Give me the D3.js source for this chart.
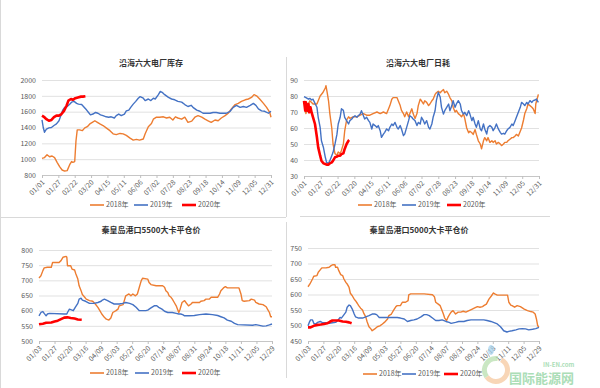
<!DOCTYPE html>
<html><head><meta charset="utf-8">
<script src="https://cdn.jsdelivr.net/npm/d3@7"></script>
<style>
body{margin:0;background:#fff}
svg{display:block}
text{font-family:"Noto Sans CJK SC","Noto Sans",sans-serif}
</style>
</head><body>
<svg id="c" width="600" height="388"></svg>
<script>
// ---------- tick labels ----------
const dailyTickLabels = ["01/01","01/27","02/22","03/20","04/15","05/11","06/06","07/02","07/28","08/23","09/18","10/14","11/09","12/05","12/31"];
const priceTickLabels = ["01/03","01/27","02/20","03/16","04/09","05/03","05/27","06/20","07/14","08/07","08/31","09/24","10/18","11/11","12/05","12/29"];
const stockYTicks = [800,1000,1200,1400,1600,1800,2000];
const burnYTicks = [30,40,50,60,70,80,90];
const p5500YTicks = [500,550,600,650,700,750,800];
const p5000YTicks = [450,500,550,600,650,700,750];
const seriesNames = ["2018年","2019年","2020年"];

// ---------- 沿海六大电厂库存 [day of year, value] ----------
const stock2018 = [[0,1010],[4,1020],[8,1055],[12,1030],[16,1040],[20,1020],[24,960],[28,905],[32,863],[36,850],[40,855],[44,930],[47,970],[49,960],[52,970],[54,1230],[56,1370],[60,1370],[64,1360],[68,1395],[72,1410],[76,1445],[80,1465],[84,1485],[88,1465],[92,1445],[97,1425],[102,1395],[108,1360],[113,1320],[118,1310],[124,1325],[129,1320],[134,1300],[140,1265],[145,1240],[150,1250],[155,1240],[161,1255],[164,1320],[169,1410],[174,1450],[177,1505],[182,1530],[187,1530],[193,1535],[198,1520],[203,1530],[208,1495],[212,1535],[216,1520],[222,1505],[227,1530],[232,1465],[238,1480],[243,1530],[248,1550],[254,1530],[259,1505],[264,1485],[269,1465],[275,1495],[280,1485],[285,1520],[291,1550],[296,1580],[301,1635],[307,1690],[312,1705],[317,1730],[323,1750],[328,1760],[333,1780],[337,1815],[341,1800],[346,1760],[352,1705],[357,1655],[362,1590],[364,1530]];
const stock2019 = [[0,1495],[2,1400],[4,1340],[7,1380],[11,1395],[15,1400],[19,1425],[23,1445],[27,1485],[30,1550],[33,1620],[36,1655],[40,1665],[44,1695],[47,1720],[51,1730],[55,1705],[58,1695],[63,1690],[67,1655],[71,1620],[74,1590],[77,1560],[81,1570],[85,1590],[89,1580],[93,1560],[97,1550],[102,1535],[106,1530],[110,1535],[115,1520],[118,1550],[122,1570],[126,1550],[131,1570],[134,1610],[138,1620],[141,1655],[145,1695],[149,1730],[153,1770],[156,1790],[161,1770],[164,1740],[169,1760],[173,1740],[177,1770],[180,1760],[185,1815],[188,1855],[191,1845],[195,1815],[201,1780],[206,1760],[211,1750],[216,1730],[222,1720],[227,1690],[232,1665],[237,1680],[240,1655],[246,1620],[251,1605],[256,1580],[262,1580],[267,1580],[272,1590],[277,1590],[283,1580],[288,1580],[293,1580],[299,1605],[304,1655],[309,1680],[315,1655],[320,1665],[325,1655],[331,1680],[336,1705],[340,1680],[344,1635],[349,1610],[354,1605],[360,1580],[364,1605]];
const stock2020 = [[0,1550],[3,1535],[7,1505],[11,1485],[15,1495],[19,1530],[23,1550],[27,1550],[31,1570],[35,1610],[39,1675],[42,1740],[46,1760],[49,1750],[53,1770],[57,1780],[62,1790],[65,1790],[69,1795]];

// ---------- 沿海六大电厂日耗 ----------
const burn2018 = [[1,74],[3,69],[7,75],[9,77],[14,75],[20,75],[25,80],[29,82],[33,85],[34,86.5],[36,82],[38,77],[40,69],[43,60],[45,50],[48,44],[51,43],[53,45],[56,44],[58,46],[61,50],[63,58],[66,65],[69,67],[71,66],[76,67],[82,67],[87,68],[92,69],[97,68],[102,68],[107,69],[113,70],[118,69],[123,70],[128,69],[131,72],[133,74],[136,78],[138,79],[144,79],[146,77],[149,74],[151,71],[154,69],[156,67],[159,70],[162,67],[164,69],[167,72],[169,69],[172,66],[175,69],[177,74],[180,78],[182,77],[185,75],[187,77],[190,76],[193,74],[195,75],[198,77],[200,78],[203,81],[205,82],[208,83],[211,82],[213,83],[216,84],[218,82],[221,83],[224,81],[226,79],[229,77],[231,73],[234,70],[236,71],[239,69],[242,68],[244,67],[247,69],[249,66],[252,60],[255,57],[257,58],[260,57],[262,56],[265,59],[267,56],[270,52],[273,50],[275,47],[278,52],[280,54],[283,52],[285,54],[288,51],[291,52],[293,51],[296,52],[298,50],[301,51],[304,50],[306,49],[309,50],[311,51],[314,51],[316,52],[319,53],[322,54],[324,54],[327,55],[329,56],[332,55],[335,58],[337,60],[340,65],[342,69],[345,72],[347,75],[350,74],[353,73],[355,72],[358,69],[359,75],[361,78],[363,81]];
const burn2019 = [[0,79.6],[3,79],[7,78],[9,78.5],[12,77.5],[14,78],[17,75.4],[20,73],[22,66.7],[25,60.4],[27,52],[30,48],[33,41.7],[35,38.5],[38,37.9],[40,39.6],[43,42.7],[45,44.8],[48,50],[51,56],[53,62.5],[56,66.7],[58,72],[61,71],[63,66.7],[66,64.6],[69,62.5],[71,64.6],[74,65.6],[76,66.7],[79,67.7],[82,66.7],[84,67.7],[87,68.7],[89,70.8],[92,67.7],[94,65.6],[97,66.7],[100,64.6],[102,63.5],[105,59.4],[107,62.5],[110,61.5],[113,60.4],[115,61.5],[118,58.3],[120,54.2],[123,56.2],[125,57.3],[128,59.4],[131,58.3],[133,60.4],[136,62.5],[138,61.5],[141,63.5],[144,60.4],[146,59.4],[149,61.5],[151,59.4],[154,55.2],[156,56.2],[159,60.4],[162,64.6],[164,67.7],[167,66.7],[169,65.6],[172,64.6],[175,61.5],[177,63.5],[180,62.5],[182,66.7],[185,64.6],[187,62.5],[190,64.6],[193,60.4],[195,59.4],[198,62.5],[200,66.7],[203,70.8],[205,77.1],[208,82.3],[211,79.2],[213,72.9],[216,68.7],[218,70.8],[221,72.9],[224,75],[226,70.8],[229,74],[231,77.1],[234,72.9],[236,75],[239,77.1],[242,75],[244,70.8],[247,68.7],[249,69.8],[252,67.7],[255,70.8],[257,68.7],[260,64.6],[262,66.7],[265,62.5],[267,60.4],[270,64.6],[273,59.4],[275,58.3],[278,62.5],[280,59.4],[283,56.2],[285,60.4],[288,61.5],[291,60.4],[293,58.3],[296,60.4],[298,62.5],[301,59.4],[304,57.3],[306,56.2],[309,56.7],[311,56.2],[314,58.3],[316,59.4],[319,60.4],[322,62.5],[324,61.5],[327,64.6],[329,66.7],[332,69.8],[335,72.9],[337,76],[340,75],[342,74],[345,76],[347,75],[350,77.1],[353,76],[355,77.1],[358,77.5],[360,78.1],[363,76]];
const burn2020 = [[0,77],[2,70.8],[3,76],[5,70.8],[7,75],[8,69.8],[10,72.9],[12,69.4],[14,66.7],[17,62.5],[20,54.2],[22,47.9],[25,42.7],[27,39.6],[30,37.9],[33,37.5],[35,37.1],[38,37.1],[40,37.9],[43,38.5],[45,39.6],[48,41.7],[51,42.1],[53,42.7],[56,42.7],[58,43.7],[61,44.2],[63,46.9],[66,50],[69,52.1],[70,52.5]];

// ---------- 秦皇岛港口5500大卡平仓价 [days from 01/03, value] ----------
const p5500_2018 = [[0,708],[3,715],[6,732],[8,741],[13,743],[19,743],[21,759],[31,759],[34,765],[37,776],[42,779],[43,776],[44,748],[49,748],[51,737],[55,734],[57,721],[60,704],[62,682],[65,666],[67,653],[70,646],[73,638],[78,633],[83,631],[87,622],[91,611],[94,600],[97,589],[101,578],[104,572],[108,569],[111,576],[114,594],[119,600],[122,605],[124,616],[130,620],[134,649],[139,655],[142,649],[145,655],[149,649],[152,655],[155,677],[158,699],[160,707],[168,704],[170,693],[173,686],[181,682],[191,682],[194,677],[196,666],[199,660],[201,649],[204,644],[206,638],[209,627],[212,616],[214,605],[216,594],[218,605],[221,627],[225,633],[227,627],[231,616],[235,622],[237,627],[248,627],[250,631],[255,633],[258,638],[263,638],[266,644],[276,644],[279,655],[281,666],[285,675],[288,679],[291,675],[309,675],[312,655],[314,633],[317,631],[325,633],[328,638],[333,635],[335,627],[340,622],[346,620],[351,613],[353,605],[356,594],[358,580],[360,580]];
const p5500_2019 = [[0,583],[3,594],[6,597],[8,591],[11,583],[13,589],[16,591],[39,589],[43,589],[44,594],[47,605],[51,602],[53,600],[56,611],[60,624],[62,638],[65,641],[67,635],[72,631],[78,624],[85,624],[91,627],[96,631],[98,635],[101,638],[106,633],[111,627],[116,622],[124,622],[129,624],[134,627],[140,624],[145,620],[150,611],[155,600],[165,600],[168,602],[173,609],[178,616],[182,616],[185,611],[190,605],[194,598],[199,594],[206,594],[212,591],[216,589],[219,589],[222,587],[225,583],[232,583],[240,584],[248,587],[258,589],[268,587],[276,584],[281,580],[286,576],[291,569],[297,565],[302,558],[307,554],[330,552],[335,554],[346,549],[351,550],[356,553],[360,556]];
const p5500_2020 = [[0,555],[6,557],[11,560],[19,561],[24,564],[29,567],[34,572],[39,577],[44,578],[49,576],[55,574],[60,571],[66,570]];

// ---------- 秦皇岛港口5000大卡平仓价 ----------
const p5000_2018 = [[0,625],[3,634],[7,650],[9,659],[14,661],[16,672],[20,682],[22,686],[28,686],[33,688],[36,693],[39,696],[42,696],[43,688],[46,688],[48,677],[51,664],[54,661],[56,650],[59,639],[61,634],[64,623],[66,604],[69,596],[72,585],[74,580],[77,571],[79,564],[82,556],[85,550],[87,539],[90,528],[92,513],[95,496],[98,489],[100,483],[104,489],[108,496],[112,499],[116,505],[119,510],[124,521],[126,532],[130,537],[133,548],[137,561],[139,564],[144,564],[147,575],[152,575],[156,580],[157,599],[160,602],[181,602],[194,599],[197,593],[199,575],[203,569],[206,564],[208,553],[211,537],[213,524],[216,516],[218,526],[221,537],[223,543],[226,548],[230,537],[234,543],[238,543],[242,546],[246,543],[251,548],[256,553],[259,556],[264,561],[268,559],[272,561],[274,564],[278,569],[282,585],[286,596],[289,605],[291,602],[295,598],[311,598],[313,575],[316,566],[318,564],[322,559],[326,564],[331,561],[337,553],[342,548],[347,545],[351,543],[354,537],[356,521],[358,499],[360,496]];
const p5000_2019 = [[0,499],[2,510],[4,518],[7,518],[9,507],[12,505],[15,510],[19,513],[22,510],[28,509],[33,507],[38,509],[43,510],[47,518],[50,526],[52,524],[55,532],[59,543],[61,559],[64,566],[66,564],[69,553],[72,537],[74,528],[79,524],[85,524],[90,528],[95,532],[100,537],[104,537],[107,535],[111,526],[139,526],[144,524],[150,521],[155,513],[160,516],[165,518],[170,521],[176,528],[181,535],[185,535],[189,532],[194,524],[199,516],[204,516],[209,518],[215,513],[220,510],[223,507],[230,510],[235,513],[243,513],[248,516],[254,518],[274,518],[279,516],[285,513],[290,509],[295,505],[300,496],[305,483],[310,479],[313,481],[318,483],[324,486],[329,489],[334,490],[339,489],[344,486],[350,488],[355,490],[360,494]];
const p5000_2020 = [[0,494],[4,494],[9,499],[15,502],[20,503],[25,505],[30,507],[34,512],[38,516],[48,516],[54,513],[59,512],[64,510],[68,507]];

// ---------- drawing ----------
const COLORS = ["#ED7D31","#4472C4","#FF0000"];
const WIDTHS = [1.4,1.4,2.6];
const svg = d3.select("#c");

// frames
const frame = svg.append("g").attr("stroke","#d9d9d9").attr("stroke-width",1);
frame.append("line").attr("x1",0.5).attr("x2",0.5).attr("y1",0).attr("y2",388);
frame.append("line").attr("x1",286.5).attr("x2",286.5).attr("y1",57).attr("y2",217);
frame.append("line").attr("x1",0).attr("x2",286).attr("y1",217.5).attr("y2",217.5);
frame.append("line").attr("x1",300).attr("x2",550).attr("y1",216.5).attr("y2",216.5);
frame.append("line").attr("x1",286.5).attr("x2",286.5).attr("y1",222).attr("y2",378);

function panel(cfg){
  const g = svg.append("g");
  const x = d3.scaleLinear().domain(cfg.xDomain).range([cfg.x0,cfg.x1]);
  const y = d3.scaleLinear().domain(cfg.yDomain).range([cfg.y0,cfg.y1]);
  const ya = g.append("g").attr("transform",`translate(${cfg.x0},0)`)
    .call(d3.axisLeft(y).tickValues(cfg.yTicks).tickSize(-(cfg.x1-cfg.x0)).tickPadding(6).tickFormat(d3.format("d")));
  ya.select(".domain").remove();
  ya.selectAll(".tick line").attr("stroke","#d9d9d9").attr("stroke-width",0.8);
  ya.selectAll(".tick text").attr("fill","#595959").style("font-size","7px");
  const xa = g.append("g").attr("transform",`translate(0,${cfg.y0})`)
    .call(d3.axisBottom(x).tickValues(cfg.xTicks).tickSize(3).tickFormat((d,i)=>cfg.xLabels[i]));
  xa.select(".domain").attr("stroke","#bfbfbf").attr("stroke-width",0.8);
  xa.selectAll(".tick line").attr("stroke","#bfbfbf");
  xa.selectAll(".tick text").attr("fill","#595959").style("font-size","7px")
    .attr("y",0).attr("x",0).attr("dy","0.35em")
    .attr("text-anchor","end").attr("transform","translate(1,6) rotate(-45)");
  const line = d3.line().x(d=>x(d[0])).y(d=>y(d[1]));
  cfg.series.forEach((s,i)=>{
    g.append("path").datum(s).attr("fill","none")
      .attr("stroke",COLORS[i]).attr("stroke-width",WIDTHS[i])
      .attr("stroke-linejoin","round").attr("d",line);
  });
  g.append("text").attr("x",cfg.tx).attr("y",cfg.ty).attr("text-anchor","middle")
    .attr("fill","#333").style("font-size","8px").style("font-weight","bold").text(cfg.title);
  cfg.legendX.forEach((lx,i)=>{
    g.append("line").attr("x1",lx).attr("x2",lx+14).attr("y1",cfg.legendY).attr("y2",cfg.legendY)
      .attr("stroke",COLORS[i]).attr("stroke-width",i===2?2.6:1.6);
    g.append("text").attr("x",lx+16).attr("y",cfg.legendY).attr("dy","0.35em")
      .attr("fill","#595959").style("font-size","7px").text(seriesNames[i]);
  });
}

const dailyTicks = dailyTickLabels.map((d,i)=>i*26);
const priceTicks = priceTickLabels.map((d,i)=>i*24);

panel({title:"沿海六大电厂库存",tx:151,ty:66,x0:42,x1:271,y0:175,y1:80,
  xDomain:[0,364],yDomain:[800,2000],yTicks:stockYTicks,xTicks:dailyTicks,xLabels:dailyTickLabels,
  series:[stock2018,stock2019,stock2020],legendX:[90,134,182],legendY:205});
panel({title:"沿海六大电厂日耗",tx:418,ty:66,x0:304,x1:539,y0:176,y1:80,
  xDomain:[0,364],yDomain:[30,90],yTicks:burnYTicks,xTicks:dailyTicks,xLabels:dailyTickLabels,
  series:[burn2018,burn2019,burn2020],legendX:[358,402,447],legendY:205});
panel({title:"秦皇岛港口5500大卡平仓价",tx:151,ty:233,x0:39,x1:272,y0:341,y1:250,
  xDomain:[0,360],yDomain:[500,800],yTicks:p5500YTicks,xTicks:priceTicks,xLabels:priceTickLabels,
  series:[p5500_2018,p5500_2019,p5500_2020],legendX:[90,135,182],legendY:373});
panel({title:"秦皇岛港口5000大卡平仓价",tx:419,ty:233,x0:308,x1:539,y0:341,y1:248,
  xDomain:[0,360],yDomain:[450,750],yTicks:p5000YTicks,xTicks:priceTicks,xLabels:priceTickLabels,
  series:[p5000_2018,p5000_2019,p5000_2020],legendX:[363,402,444],legendY:374});

// watermark
const wm = svg.append("g").attr("opacity",0.75);
wm.append("path").attr("d",d3.arc()({innerRadius:9,outerRadius:14,startAngle:Math.PI*0.15,endAngle:Math.PI*1.3}))
  .attr("transform","translate(496,370)").attr("fill","#f6c9a0");
wm.append("path").attr("d",d3.arc()({innerRadius:9,outerRadius:14,startAngle:Math.PI*1.3,endAngle:Math.PI*2.05}))
  .attr("transform","translate(496,370)").attr("fill","#b9e0b0");
wm.append("ellipse").attr("cx",491).attr("cy",350).attr("rx",3).attr("ry",5).attr("fill","#a8d4ee");
wm.append("text").attr("x",543).attr("y",367).attr("fill","#8fd3a0").style("font-size","6px").style("font-weight","bold").text("IN-EN.com");
wm.append("text").attr("x",509).attr("y",382.5).attr("fill","#8fd3a0").style("font-size","13px").style("font-weight","bold").text("国际能源网");
</script>
</body></html>
